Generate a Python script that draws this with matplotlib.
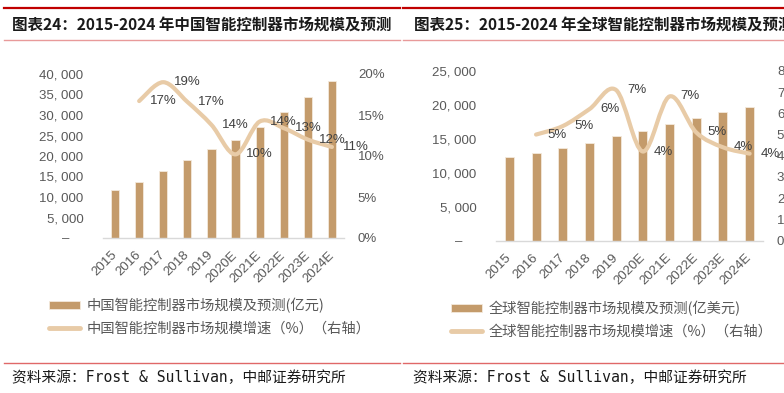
import matplotlib
matplotlib.use('Agg')
import matplotlib.pyplot as plt
from matplotlib.path import Path
from matplotlib.patches import PathPatch, Patch
from matplotlib.lines import Line2D
import matplotlib.transforms as mtransforms
import numpy as np

# ---------------- data ----------------
years = ['2015', '2016', '2017', '2018', '2019', '2020E', '2021E', '2022E', '2023E', '2024E']

china_size = [11700, 13650, 16350, 19000, 21650, 23850, 27150, 30750, 34450, 38300]   # 亿元
china_growth = [16.7, 19.0, 16.6, 13.8, 10.2, 14.2, 13.4, 12.0, 11.1]                 # %, 2016-2024E

global_size = [12280, 12870, 13600, 14440, 15470, 16120, 17200, 18090, 18880, 19670]  # 亿美元
global_growth = [5.0, 5.4, 6.2, 7.1, 4.2, 6.8, 5.1, 4.4, 4.1]                           # %, 2016-2024E

china_title = '图表24：2015-2024 年中国智能控制器市场规模及预测'
global_title = '图表25：2015-2024 年全球智能控制器市场规模及预测'
china_legend = ['中国智能控制器市场规模及预测(亿元)', '中国智能控制器市场规模增速（%）（右轴）']
global_legend = ['全球智能控制器市场规模及预测(亿美元)', '全球智能控制器市场规模增速（%）（右轴）']
source_text = '资料来源：Frost & Sullivan，中邮证券研究所'

# ---------------- style ----------------
W, H = 784, 393
BAR = '#C49B6B'
LINE = '#E8CBA7'
TICK = '#595959'
LABEL = '#404040'
NUM_FONT = ['Liberation Sans', 'Noto Sans CJK SC']
CJK_FONT = ['Noto Sans CJK SC', 'DejaVu Sans']

fig = plt.figure(figsize=(W / 100, H / 100), dpi=100)


def fx(px):
    return px / W


def fy(py):
    return 1 - py / H


def smooth_path(xs, ys):
    pts = np.column_stack([xs, ys]).astype(float)
    n = len(pts)
    verts = [pts[0]]
    codes = [Path.MOVETO]
    for i in range(n - 1):
        p0 = pts[max(i - 1, 0)]
        p1 = pts[i]
        p2 = pts[i + 1]
        p3 = pts[min(i + 2, n - 1)]
        verts += [p1 + (p2 - p0) / 6, p2 - (p3 - p1) / 6, p2]
        codes += [Path.CURVE4] * 3
    return Path(verts, codes)


def panel(x0, x1, y_top, y_bot, sizes, growth, ymax, ystep, gmax, gstep,
          label_shift, legend_labels, legend_xy, title, title_x, line_x0, line_x1,
          source_x):
    ax = fig.add_axes([fx(x0), fy(y_bot), fx(x1 - x0), (y_bot - y_top) / H])
    ax2 = ax.twinx()
    x = np.arange(len(years))
    ax.bar(x, sizes, width=0.34, color=BAR, edgecolor='#F3E9DC', linewidth=0.6, zorder=2)
    ax.set_xlim(-0.5, len(years) - 0.5)
    ax.set_ylim(0, ymax)
    yt = np.arange(0, ymax + 1, ystep)
    ax.set_yticks(yt)
    ax.set_yticklabels(['–    ' if v == 0 else f'{int(v) // 1000}, {int(v) % 1000:03d}' for v in yt])
    ax.set_xticks(x)
    ax.set_xticklabels(years, rotation=45, ha='right', va='center', rotation_mode='anchor')
    off = mtransforms.ScaledTranslation(3 / 100, 0, fig.dpi_scale_trans)
    for lab in ax.get_xticklabels():
        lab.set_transform(lab.get_transform() + off)
    for s in ['top', 'left', 'right']:
        ax.spines[s].set_visible(False)
        ax2.spines[s].set_visible(False)
    ax.spines['bottom'].set_color('#D9D9D9')
    ax.spines['bottom'].set_linewidth(1.0)
    ax2.spines['bottom'].set_visible(False)
    ax.tick_params(axis='both', length=0, colors=TICK, labelsize=9.5)
    ax.tick_params(axis='y', pad=14)
    ax.tick_params(axis='x', pad=11)
    for lab in ax.get_xticklabels() + ax.get_yticklabels():
        lab.set_family(NUM_FONT)

    ax2.set_ylim(0, gmax)
    gt = np.arange(0, gmax + 0.001, gstep)
    ax2.set_yticks(gt)
    ax2.set_yticklabels([f'{int(v)}%' for v in gt])
    ax2.tick_params(axis='y', length=0, colors=TICK, labelsize=9.5, pad=10)
    for lab in ax2.get_yticklabels():
        lab.set_family(NUM_FONT)

    gx = x[1:]
    path = smooth_path(gx, growth)
    ax2.add_patch(PathPatch(path, fill=False, edgecolor=LINE, linewidth=3.0,
                            capstyle='round', joinstyle='round', zorder=3))
    for xi, v in zip(gx, growth):
        ax2.text(xi + 1 + label_shift, v, f'{v:.0f}%', ha='center', va='center',
                 fontsize=9.5, color=LABEL, family=NUM_FONT, clip_on=False, zorder=4)

    handles = [Patch(facecolor=BAR, edgecolor='#F3E9DC', linewidth=0.6),
               Line2D([0], [0], color=LINE, linewidth=3.5, solid_capstyle='round')]
    leg = fig.legend(handles, legend_labels, loc='center left',
                     bbox_to_anchor=(fx(legend_xy[0]), fy(legend_xy[1])),
                     frameon=False, borderpad=0, borderaxespad=0,
                     handlelength=2.2, handleheight=0.5, handletextpad=0.4,
                     labelspacing=0.62, prop={'family': CJK_FONT, 'size': 10.3})
    for t in leg.get_texts():
        t.set_color(TICK)

    # header and footer decorations
    fig.add_artist(Line2D([fx(line_x0), fx(line_x1)], [fy(8), fy(8)], color='#C00000',
                          linewidth=1.6, transform=fig.transFigure))
    fig.add_artist(Line2D([fx(line_x0), fx(line_x1)], [fy(40), fy(40)], color='#E89A9A',
                          linewidth=1.0, transform=fig.transFigure))
    fig.add_artist(Line2D([fx(line_x0), fx(line_x1)], [fy(363), fy(363)], color='#E06868',
                          linewidth=1.0, transform=fig.transFigure))
    fig.text(fx(title_x), fy(25), title, fontsize=11.2, fontweight='bold', family=CJK_FONT,
             color='#1A1A1A', ha='left', va='center')
    fig.text(fx(source_x), fy(378), source_text, fontsize=10.6,
             family=['DejaVu Sans Mono', 'Noto Sans CJK SC'], color='#1A1A1A',
             ha='left', va='center')


panel(103, 344, 74, 238, china_size, china_growth, 40000, 5000, 20, 5,
      0.0, china_legend, (49, 317), china_title, 12, 4, 400, 12)
panel(496, 763, 71, 240.5, global_size, global_growth, 25000, 5000, 8, 1,
      -0.22, global_legend, (451, 319.5), global_title, 414, 403, 784, 413)

fig.savefig('out.png', dpi=100)
